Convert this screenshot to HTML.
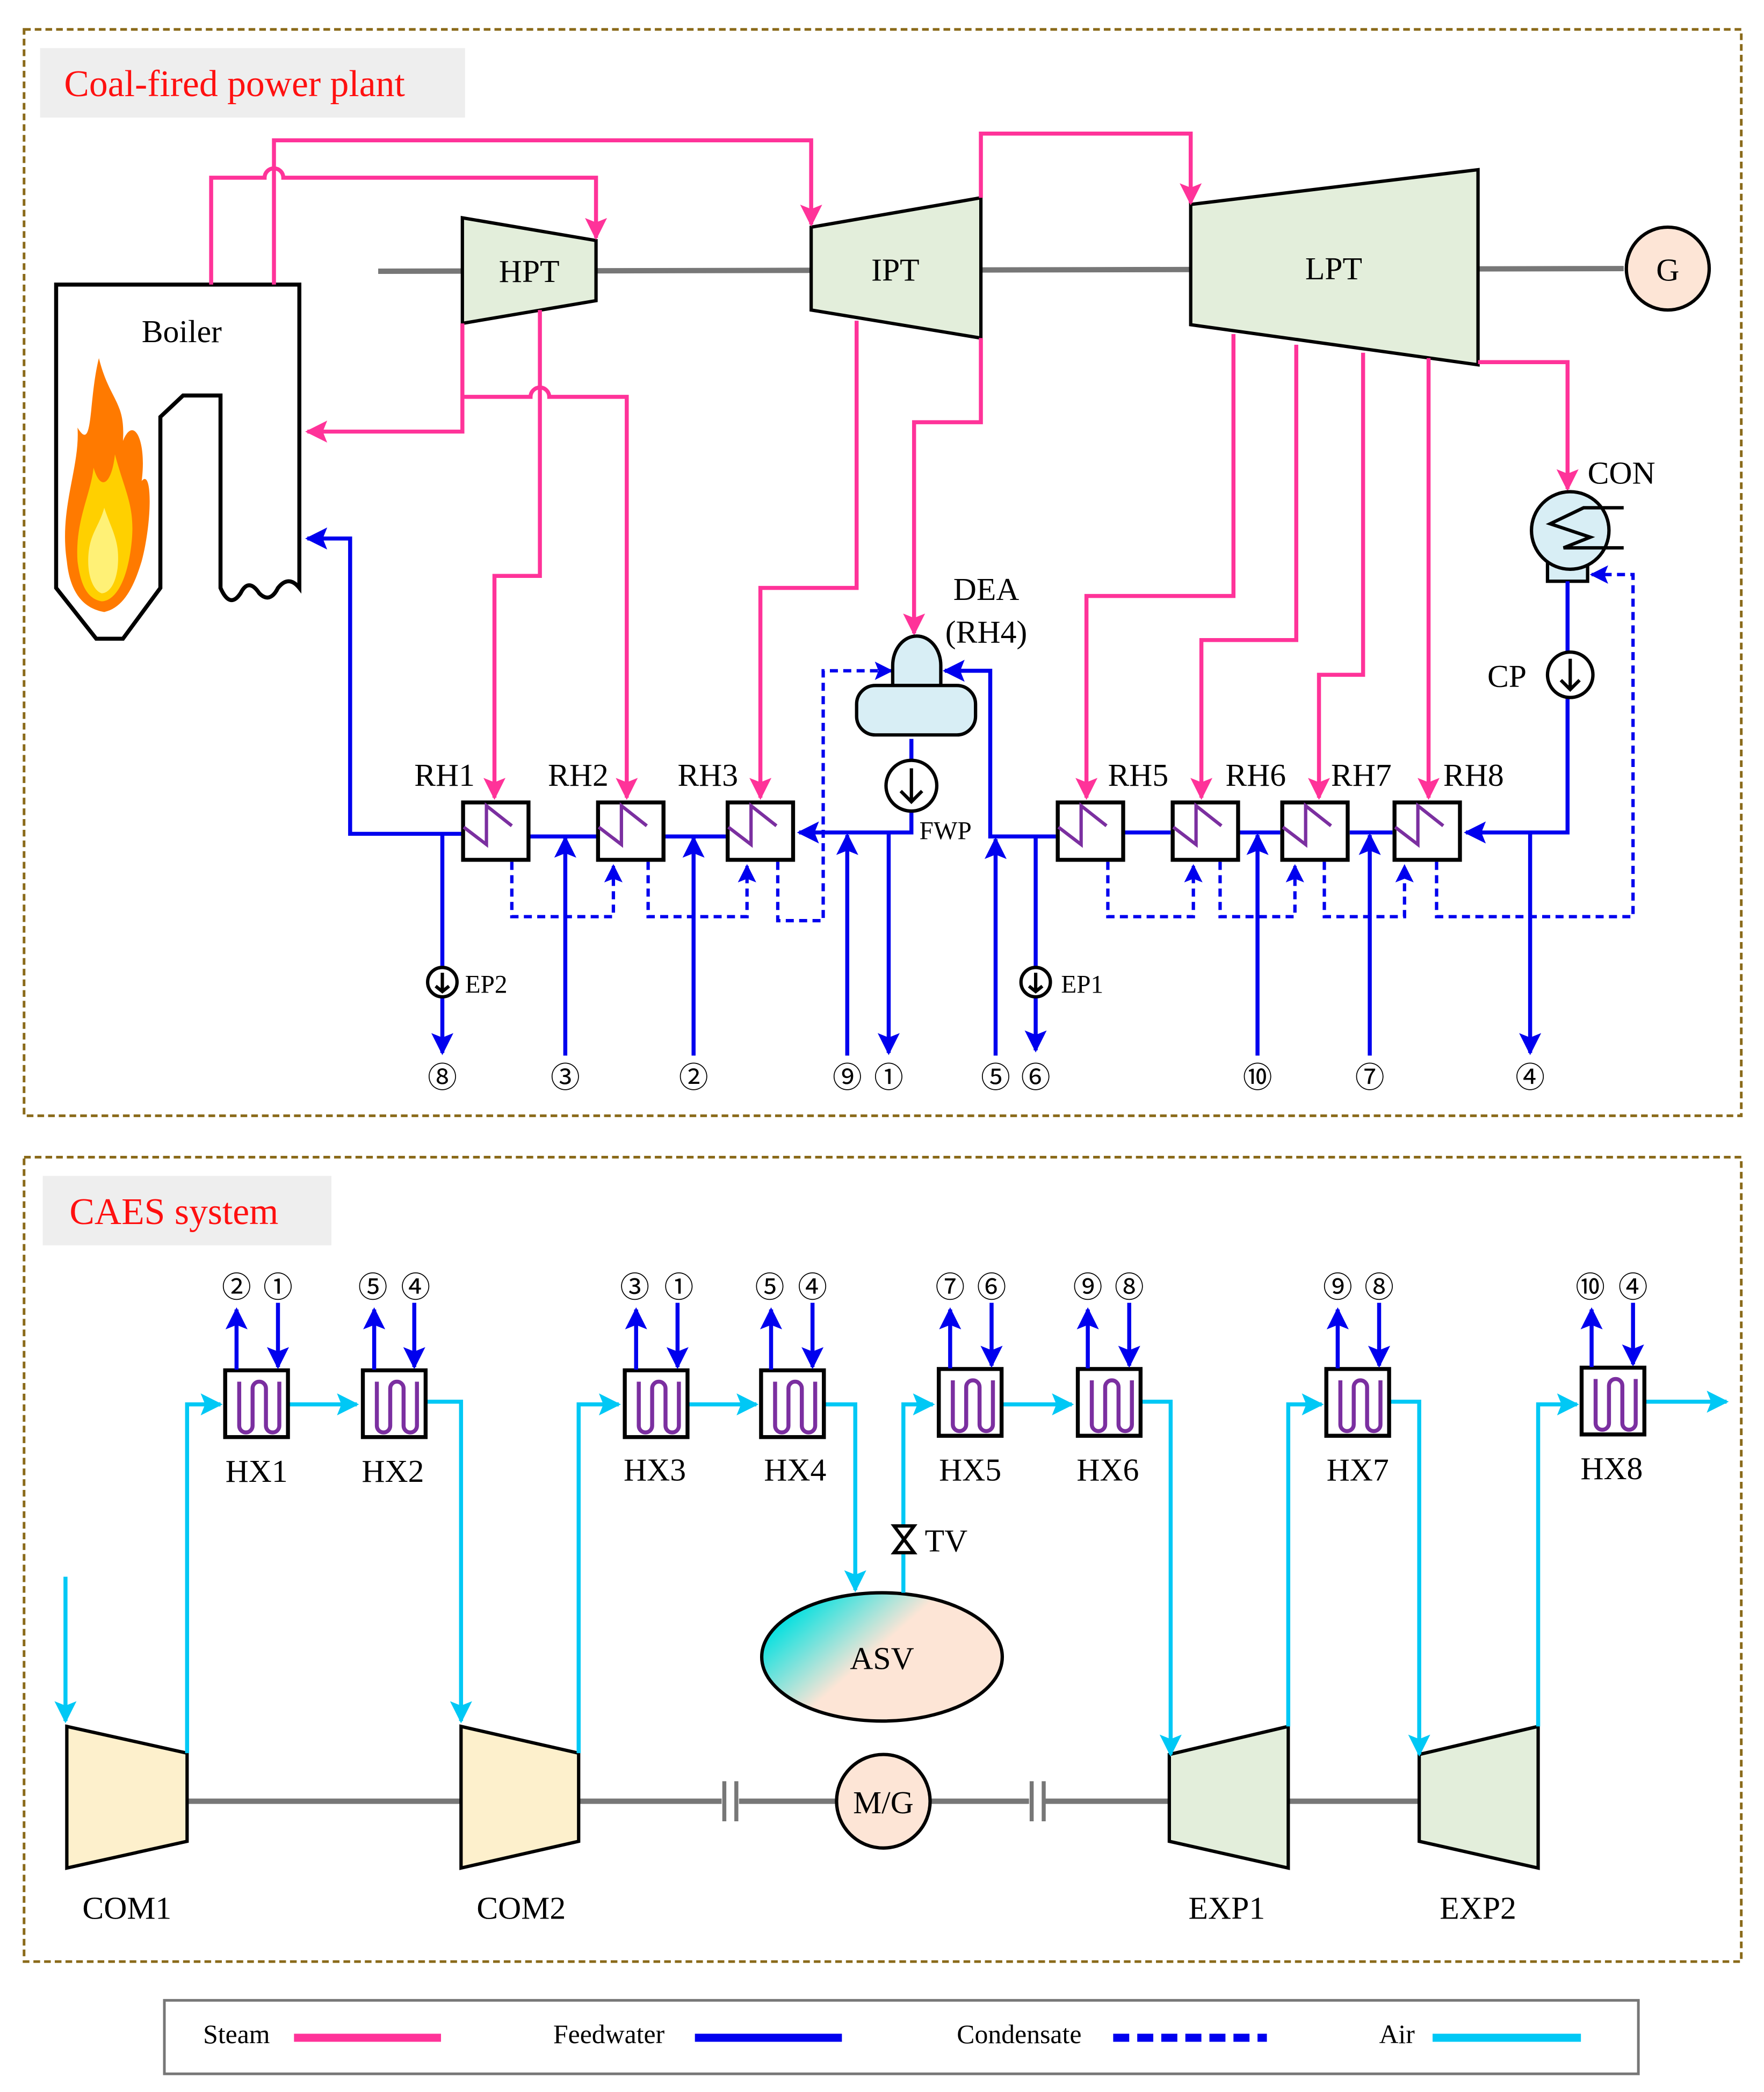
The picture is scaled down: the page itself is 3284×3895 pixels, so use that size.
<!DOCTYPE html>
<html><head><meta charset="utf-8"><style>html,body{margin:0;padding:0;background:#fff}svg{display:block}text{font-family:"Liberation Serif",serif;fill:#000}.cn{font-family:"Liberation Serif","Noto Sans CJK JP",sans-serif}</style></head><body>
<svg width="3284" height="3895" viewBox="0 0 1320 1565.6" xmlns="http://www.w3.org/2000/svg">
<defs>
<marker id="ap" viewBox="0 0 10 10" refX="9" refY="5" markerWidth="5.5" markerHeight="5.5" markerUnits="strokeWidth" orient="auto"><path d="M0,0L10,5L0,10L2,5z" fill="#ff3399"/></marker>
<marker id="ab" viewBox="0 0 10 10" refX="9" refY="5" markerWidth="5.5" markerHeight="5.5" markerUnits="strokeWidth" orient="auto"><path d="M0,0L10,5L0,10L2,5z" fill="#0000ee"/></marker>
<marker id="ac" viewBox="0 0 10 10" refX="9" refY="5" markerWidth="5.5" markerHeight="5.5" markerUnits="strokeWidth" orient="auto"><path d="M0,0L10,5L0,10L2,5z" fill="#00c8f5"/></marker>
<symbol id="rh" viewBox="0 0 52 46" width="52" height="46"><rect x="1.5" y="1.5" width="49" height="43" fill="#fff" stroke="#000" stroke-width="3"/><path d="M2,20 L19,33 L19,4 L38,19" fill="none" stroke="#7b2fa0" stroke-width="2.5"/></symbol>
<symbol id="hx" viewBox="0 0 50 53" width="50" height="53"><rect x="1.5" y="1.5" width="47" height="50" fill="#fff" stroke="#000" stroke-width="3"/><path d="M12,10 V43 a5,5 0 0 0 10,0 V15 a5,5 0 0 1 10,0 V43 a5,5 0 0 0 10,0 V10" fill="none" stroke="#7b2fa0" stroke-width="3"/></symbol>
<linearGradient id="asv" x1="0" y1="0" x2="1" y2="0.6"><stop offset="0.15" stop-color="#00e0e0"/><stop offset="0.55" stop-color="#fde5d6"/><stop offset="1" stop-color="#fde5d6"/></linearGradient>
</defs>

<rect x="18" y="22" width="1285" height="813" fill="none" stroke="#8a6a1a" stroke-width="2" stroke-dasharray="5,3"/>
<rect x="30" y="36" width="318" height="52" fill="#eeeeee"/>
<text x="48" y="72" font-size="28" style="fill:#ff1010">Coal-fired power plant</text>
<rect x="18" y="866" width="1285" height="602" fill="none" stroke="#8a6a1a" stroke-width="2" stroke-dasharray="5,3"/>
<rect x="32" y="880" width="216" height="52" fill="#eeeeee"/>
<text x="52" y="916" font-size="28" style="fill:#ff1010">CAES system</text>

<rect x="123" y="1497" width="1103" height="55" fill="none" stroke="#777" stroke-width="2"/>
<text x="152" y="1529" font-size="20">Steam</text><line x1="220" y1="1525" x2="330" y2="1525" stroke="#ff3399" stroke-width="6"/>
<text x="414" y="1529" font-size="20">Feedwater</text><line x1="520" y1="1525" x2="630" y2="1525" stroke="#0000ee" stroke-width="6"/>
<text x="716" y="1529" font-size="20">Condensate</text><line x1="833" y1="1525" x2="948" y2="1525" stroke="#0000ee" stroke-width="6" stroke-dasharray="12,6"/>
<text x="1032" y="1529" font-size="20">Air</text><line x1="1072" y1="1525" x2="1183" y2="1525" stroke="#00c8f5" stroke-width="6"/>

<line x1="283" y1="203" x2="1215" y2="201" stroke="#777" stroke-width="4"/>
<polygon points="346,163 446,180 446,225 346,242" fill="#e3eedb" stroke="#000" stroke-width="2.5"/>
<text x="396" y="211" font-size="24" text-anchor="middle">HPT</text>
<polygon points="607,170 734,148 734,253 607,232" fill="#e3eedb" stroke="#000" stroke-width="2.5"/>
<text x="670" y="210" font-size="24" text-anchor="middle">IPT</text>
<polygon points="891,153 1106,127 1106,273 891,243" fill="#e3eedb" stroke="#000" stroke-width="2.5"/>
<text x="998" y="209" font-size="24" text-anchor="middle">LPT</text>
<circle cx="1248" cy="201" r="31" fill="#fde5d6" stroke="#000" stroke-width="2.5"/>
<text x="1248" y="210" font-size="24" text-anchor="middle">G</text>

<path d="M42,213 H224 V440 q-8,-10 -16,0 q-6,12 -14,4 q-8,-12 -14,0 q-8,12 -15,-4 V296 H137 L120,312 V440 L92,478 H72 L42,440 Z" fill="#fff" stroke="#000" stroke-width="3"/>
<text x="136" y="256" font-size="24" text-anchor="middle">Boiler</text>
<path d="M50,420 C44,380 60,350 58,320 C70,340 66,300 74,268 C82,300 94,300 92,330 C100,310 110,330 106,360 C114,350 114,390 106,420 C100,440 92,455 78,458 C60,455 52,440 50,420Z" fill="#ff7a00"/>
<path d="M58,420 C56,390 68,370 70,350 C76,370 84,360 86,340 C94,370 102,380 98,410 C94,440 84,450 76,450 C64,448 60,435 58,420Z" fill="#ffd000"/>
<path d="M66,420 C66,400 74,395 78,380 C84,398 90,405 88,425 C86,440 80,444 76,444 C70,442 66,432 66,420Z" fill="#fff176"/>

<g fill="none" stroke="#ff3399" stroke-width="3">
<path d="M158,213 V133 H198 a7,7 0 0 1 14,0 H446 V178" marker-end="url(#ap)"/>
<path d="M205,213 V105 H607 V168" marker-end="url(#ap)"/>
<path d="M346,242 V323 H230" marker-end="url(#ap)"/>
<path d="M346,297 H397 a7,7 0 0 1 14,0 H469 V597" marker-end="url(#ap)"/>
<path d="M404,232 V431 H370 V597" marker-end="url(#ap)"/>
<path d="M734,148 V100 H891 V152" marker-end="url(#ap)"/>
<path d="M641,240 V440 H569 V597" marker-end="url(#ap)"/>
<path d="M734,253 V316 H684 V474" marker-end="url(#ap)"/>
<path d="M923,250 V446 H813 V597" marker-end="url(#ap)"/>
<path d="M970,258 V479 H899 V597" marker-end="url(#ap)"/>
<path d="M1020,264 V505 H987 V597" marker-end="url(#ap)"/>
<path d="M1069,268 V597" marker-end="url(#ap)"/>
<path d="M1106,271 H1173 V366" marker-end="url(#ap)"/>
</g>

<rect x="1158" y="418" width="30" height="17" fill="#d8eef5" stroke="#000" stroke-width="2.5"/>
<circle cx="1175" cy="397" r="29" fill="#d8eef5" stroke="#000" stroke-width="2.5"/>
<path d="M1215,380 H1185 L1160,392 L1190,402 L1170,410 H1215" fill="none" stroke="#000" stroke-width="2.5"/>
<text x="1188" y="362" font-size="24">CON</text>
<text x="1113" y="514" font-size="24">CP</text>

<g fill="none" stroke="#0000ee" stroke-width="3">
<path d="M1173,435 V488"/>
<path d="M1173,522 V623 H1097" marker-end="url(#ab)"/>
<path d="M1042,623 H1010"/><path d="M958,623 H927"/><path d="M876,623 H841"/>
<path d="M790,626 H741 V502 H707" marker-end="url(#ab)"/>
<path d="M682,553 V570"/>
<path d="M682,607 V623 H598" marker-end="url(#ab)"/>
<path d="M543,626 H497"/><path d="M447,626 H396"/>
<path d="M346,624 H262 V403 H230" marker-end="url(#ab)"/>
<path d="M331,624 V788" marker-end="url(#ab)"/>
<path d="M423,790 V627" marker-end="url(#ab)"/>
<path d="M519,790 V627" marker-end="url(#ab)"/>
<path d="M634,790 V625" marker-end="url(#ab)"/>
<path d="M665,623 V788" marker-end="url(#ab)"/>
<path d="M745,790 V628" marker-end="url(#ab)"/>
<path d="M775,626 V786" marker-end="url(#ab)"/>
<path d="M941,790 V625" marker-end="url(#ab)"/>
<path d="M1025,790 V625" marker-end="url(#ab)"/>
<path d="M1145,623 V788" marker-end="url(#ab)"/>
</g>
<g fill="none" stroke="#0000ee" stroke-width="2.5" stroke-dasharray="6,4">
<path d="M383,645 V686 H459 V648" marker-end="url(#ab)"/>
<path d="M485,645 V686 H559 V648" marker-end="url(#ab)"/>
<path d="M582,645 V689 H616 V502 H667" marker-end="url(#ab)"/>
<path d="M829,645 V686 H893 V648" marker-end="url(#ab)"/>
<path d="M913,645 V686 H969 V648" marker-end="url(#ab)"/>
<path d="M991,645 V686 H1051 V648" marker-end="url(#ab)"/>
<path d="M1075,645 V686 H1222 V430 H1191" marker-end="url(#ab)"/>
</g>

<g stroke="#000" stroke-width="2.5" fill="#fff">
<circle cx="1175" cy="505" r="17"/><circle cx="682" cy="588" r="19"/>
<circle cx="331" cy="735" r="11"/><circle cx="775" cy="735" r="11"/>
</g>
<g stroke="#000" stroke-width="2.5" fill="none">
<path d="M1175,493 V516 M1168,509 L1175,516 L1182,509"/>
<path d="M682,575 V600 M674,592 L682,600 L690,592"/>
<path d="M331,728 V742 M326,738 L331,742 L336,738"/>
<path d="M775,728 V742 M770,738 L775,742 L780,738"/>
</g>
<text x="348" y="743" font-size="19">EP2</text>
<text x="794" y="743" font-size="19">EP1</text>
<text x="688" y="628" font-size="19">FWP</text>

<path d="M668,498 a18,22 0 0 1 36,0 V515 H668 Z" fill="#d8eef5" stroke="#000" stroke-width="2.5"/>
<rect x="641" y="513" width="89" height="37" rx="14" fill="#d8eef5" stroke="#000" stroke-width="2.5"/>
<text x="738" y="449" font-size="24" text-anchor="middle">DEA</text>
<text x="738" y="481" font-size="24" text-anchor="middle">(RH4)</text>

<use href="#rh" x="345" y="599"/><use href="#rh" x="446" y="599"/><use href="#rh" x="543" y="599"/>
<use href="#rh" x="790" y="599"/><use href="#rh" x="876" y="599"/><use href="#rh" x="958" y="599"/><use href="#rh" x="1042" y="599"/>
<g font-size="24">
<text x="310" y="588">RH1</text><text x="410" y="588">RH2</text><text x="507" y="588">RH3</text>
<text x="829" y="588">RH5</text><text x="917" y="588">RH6</text><text x="996" y="588">RH7</text><text x="1080" y="588">RH8</text>
</g>
<g font-size="22" text-anchor="middle" class="cn">
<text class="cn" x="331" y="814">⑧</text><text class="cn" x="423" y="814">③</text><text class="cn" x="519" y="814">②</text><text class="cn" x="634" y="814">⑨</text><text class="cn" x="665" y="814">①</text>
<text class="cn" x="745" y="814">⑤</text><text class="cn" x="775" y="814">⑥</text><text class="cn" x="941" y="814">⑩</text><text class="cn" x="1025" y="814">⑦</text><text class="cn" x="1145" y="814">④</text>
</g>

<line x1="140" y1="1348" x2="345" y2="1348" stroke="#777" stroke-width="4"/>
<line x1="433" y1="1348" x2="540" y2="1348" stroke="#777" stroke-width="4"/>
<line x1="553" y1="1348" x2="626" y2="1348" stroke="#777" stroke-width="4"/>
<line x1="696" y1="1348" x2="770" y2="1348" stroke="#777" stroke-width="4"/>
<line x1="782" y1="1348" x2="875" y2="1348" stroke="#777" stroke-width="4"/>
<line x1="964" y1="1348" x2="1062" y2="1348" stroke="#777" stroke-width="4"/>
<g stroke="#777" stroke-width="3"><line x1="542" y1="1333" x2="542" y2="1363"/><line x1="551" y1="1333" x2="551" y2="1363"/><line x1="772" y1="1333" x2="772" y2="1363"/><line x1="781" y1="1333" x2="781" y2="1363"/></g>
<circle cx="661" cy="1348" r="35" fill="#fde5d6" stroke="#000" stroke-width="2.5"/>
<text x="661" y="1357" font-size="24" text-anchor="middle">M/G</text>

<polygon points="50,1292 140,1312 140,1378 50,1398" fill="#fdf0cc" stroke="#000" stroke-width="2.5"/>
<polygon points="345,1292 433,1312 433,1378 345,1398" fill="#fdf0cc" stroke="#000" stroke-width="2.5"/>
<polygon points="875,1313 964,1292 964,1398 875,1378" fill="#e3eedb" stroke="#000" stroke-width="2.5"/>
<polygon points="1062,1313 1151,1292 1151,1398 1062,1378" fill="#e3eedb" stroke="#000" stroke-width="2.5"/>
<g font-size="24" text-anchor="middle"><text x="95" y="1436">COM1</text><text x="390" y="1436">COM2</text><text x="918" y="1436">EXP1</text><text x="1106" y="1436">EXP2</text></g>

<ellipse cx="660" cy="1240" rx="90" ry="48" fill="url(#asv)" stroke="#000" stroke-width="2.5"/>
<text x="660" y="1249" font-size="24" text-anchor="middle">ASV</text>

<g fill="none" stroke="#00c8f5" stroke-width="3">
<path d="M49,1180 V1288" marker-end="url(#ac)"/>
<path d="M140,1312 V1051 H165" marker-end="url(#ac)"/>
<path d="M216,1051 H267" marker-end="url(#ac)"/>
<path d="M319,1049 H345 V1288" marker-end="url(#ac)"/>
<path d="M433,1312 V1051 H463" marker-end="url(#ac)"/>
<path d="M514,1051 H566" marker-end="url(#ac)"/>
<path d="M617,1051 H640 V1190" marker-end="url(#ac)"/>
<path d="M676,1192 V1051 H698" marker-end="url(#ac)"/>
<path d="M749,1051 H802" marker-end="url(#ac)"/>
<path d="M853,1049 H876 V1313" marker-end="url(#ac)"/>
<path d="M964,1292 V1051 H989" marker-end="url(#ac)"/>
<path d="M1040,1049 H1062 V1313" marker-end="url(#ac)"/>
<path d="M1151,1292 V1051 H1180" marker-end="url(#ac)"/>
<path d="M1230,1049 H1292" marker-end="url(#ac)"/>
</g>
<path d="M669,1142 H684 L669,1162 H684 Z" fill="#fff" stroke="#000" stroke-width="2.5"/>
<text x="692" y="1161" font-size="24">TV</text>

<use href="#hx" x="167" y="1024"/><use href="#hx" x="270" y="1024"/><use href="#hx" x="466" y="1024"/><use href="#hx" x="568" y="1024"/>
<use href="#hx" x="701" y="1023"/><use href="#hx" x="805" y="1023"/><use href="#hx" x="991" y="1023"/><use href="#hx" x="1182" y="1022"/>
<g fill="none" stroke="#0000ee" stroke-width="3">
<path d="M177,1025 V980" marker-end="url(#ab)"/><path d="M208,975 V1023" marker-end="url(#ab)"/>
<path d="M280,1025 V980" marker-end="url(#ab)"/><path d="M310,975 V1023" marker-end="url(#ab)"/>
<path d="M476,1025 V980" marker-end="url(#ab)"/><path d="M507,975 V1023" marker-end="url(#ab)"/>
<path d="M577,1025 V980" marker-end="url(#ab)"/><path d="M608,975 V1023" marker-end="url(#ab)"/>
<path d="M711,1024 V980" marker-end="url(#ab)"/><path d="M742,975 V1022" marker-end="url(#ab)"/>
<path d="M814,1024 V980" marker-end="url(#ab)"/><path d="M845,975 V1022" marker-end="url(#ab)"/>
<path d="M1001,1024 V980" marker-end="url(#ab)"/><path d="M1032,975 V1022" marker-end="url(#ab)"/>
<path d="M1191,1023 V980" marker-end="url(#ab)"/><path d="M1222,975 V1021" marker-end="url(#ab)"/>
</g>
<g font-size="22" text-anchor="middle">
<text class="cn" x="177" y="971">②</text><text class="cn" x="208" y="971">①</text><text class="cn" x="279" y="971">⑤</text><text class="cn" x="311" y="971">④</text>
<text class="cn" x="475" y="971">③</text><text class="cn" x="508" y="971">①</text><text class="cn" x="576" y="971">⑤</text><text class="cn" x="608" y="971">④</text>
<text class="cn" x="711" y="971">⑦</text><text class="cn" x="742" y="971">⑥</text><text class="cn" x="814" y="971">⑨</text><text class="cn" x="845" y="971">⑧</text>
<text class="cn" x="1001" y="971">⑨</text><text class="cn" x="1032" y="971">⑧</text><text class="cn" x="1190" y="971">⑩</text><text class="cn" x="1222" y="971">④</text>
</g>
<g font-size="24" text-anchor="middle">
<text x="192" y="1109">HX1</text><text x="294" y="1109">HX2</text><text x="490" y="1108">HX3</text><text x="595" y="1108">HX4</text>
<text x="726" y="1108">HX5</text><text x="829" y="1108">HX6</text><text x="1016" y="1108">HX7</text><text x="1206" y="1107">HX8</text>
</g>
</svg>
</body></html>
